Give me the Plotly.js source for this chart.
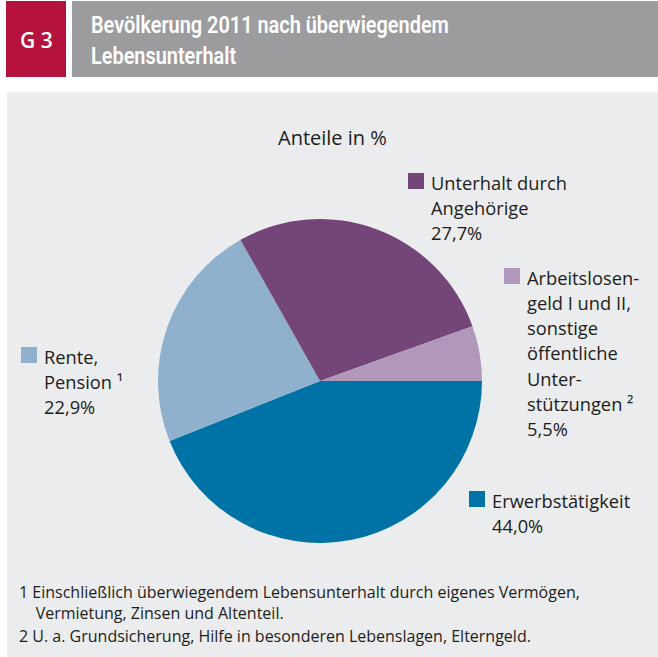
<!DOCTYPE html>
<html>
<head>
<meta charset="utf-8">
<script src="https://cdn.plot.ly/plotly-3.0.1.min.js"></script>
<style>html,body{margin:0;padding:0;background:#fff;}#chart{width:658px;height:657px;}</style>
</head>
<body>
<div id="chart"></div>
<script>
// Data
const categories = ["Erwerbstätigkeit", "Rente, Pension", "Unterhalt durch Angehörige", "Arbeitslosengeld I und II, sonstige öffentliche Unterstützungen"];
const labelLines = [
  ["Erwerbstätigkeit"],
  ["Rente,", "Pension ¹"],
  ["Unterhalt durch", "Angehörige"],
  ["Arbeitslosen-", "geld I und II,", "sonstige", "öffentliche", "Unter-", "stützungen ²"]
];
const values = [44.0, 22.9, 27.7, 5.5];
const colors = ["#0073a6", "#8fb1cd", "#744578", "#b197ba"];
const headerNumber = "G 3";
const headerTitle = "Bevölkerung 2011 nach überwiegendem<br>Lebensunterhalt";
const subTitle = "Anteile in %";
const footnotes = ["1 Einschließlich überwiegendem Lebensunterhalt durch eigenes Vermögen,", "   Vermietung, Zinsen und Altenteil.", "2 U. a. Grundsicherung, Hilfe in besonderen Lebenslagen, Elterngeld."];

const W = 658, H = 657;
const px = x => x / W;
const py = y => 1 - y / H;
const fmt = v => v.toFixed(1).replace(".", ",") + "%";
const FONT = "Open Sans, Noto Sans, sans-serif";
const TXT = "#1d1d1b";

// Label positions (square top-left in px)
const labelPos = [
  {x: 469, y: 491},
  {x: 21, y: 347},
  {x: 408, y: 173},
  {x: 504, y: 268}
];
const LINE = 25.3;

const shapes = [
  {type: "rect", xref: "paper", yref: "paper", x0: px(7), x1: px(658), y0: py(657), y1: py(92), fillcolor: "#ebeced", line: {width: 0}, layer: "below"},
  {type: "rect", xref: "paper", yref: "paper", x0: px(6), x1: px(66), y0: py(77), y1: py(1), fillcolor: "#b5133d", line: {width: 0}, layer: "below"},
  {type: "rect", xref: "paper", yref: "paper", x0: px(72), x1: px(658), y0: py(77), y1: py(1), fillcolor: "#9c9c9e", line: {width: 0}, layer: "below"}
];
const annotations = [
  {xref: "paper", yref: "paper", x: px(36), y: py(40), text: headerNumber, showarrow: false, xanchor: "center", yanchor: "middle", font: {family: FONT, size: 21, weight: 600, color: "#fff"}},
  {xref: "paper", yref: "paper", x: px(89), y: py(40), text: headerTitle, showarrow: false, xanchor: "left", yanchor: "middle", align: "left", font: {family: "Roboto, " + FONT, size: 23.5, weight: 600, color: "#fff"}},
  {xref: "paper", yref: "paper", x: px(333), y: py(137), text: subTitle, showarrow: false, xanchor: "center", yanchor: "middle", font: {family: FONT, size: 20, color: TXT}}
];
categories.forEach((c, i) => {
  const p = labelPos[i];
  shapes.push({type: "rect", xref: "paper", yref: "paper", x0: px(p.x), x1: px(p.x + 16), y0: py(p.y + 16), y1: py(p.y), fillcolor: colors[i], line: {width: 0}});
  const lines = labelLines[i].concat([fmt(values[i])]);
  lines.forEach((t, k) => {
    annotations.push({xref: "paper", yref: "paper", x: px(p.x + 21), y: py(p.y + 9 + k * LINE), text: t, showarrow: false, xanchor: "left", yanchor: "middle", align: "left", font: {family: FONT, size: 18.3, color: TXT}});
  });
});
footnotes.forEach((t, i) => {
  annotations.push({xref: "paper", yref: "paper", x: px(17), y: py([592, 613, 636][i]), text: t.replace(/^ +/, m => "\u00a0".repeat(m.length + 1)), showarrow: false, xanchor: "left", yanchor: "middle", align: "left", font: {family: FONT, size: 16, color: TXT}});
});

const cx = 320, cy = 381, r = 162;
const data = [{
  type: "pie",
  labels: categories,
  values: values,
  marker: {colors: colors, line: {width: 0}},
  sort: false,
  direction: "clockwise",
  rotation: 90,
  textinfo: "none",
  hoverinfo: "label+value",
  showlegend: false,
  domain: {x: [px(cx - r), px(cx + r)], y: [py(cy + r), py(cy - r)]}
}];
const layout = {
  width: W, height: H,
  margin: {l: 0, r: 0, t: 0, b: 0},
  paper_bgcolor: "#ffffff",
  showlegend: false,
  shapes: shapes,
  annotations: annotations
};
Plotly.newPlot("chart", data, layout, {displayModeBar: false, staticPlot: true}).then(gd => {
  // condense the header title horizontally (reference uses a condensed typeface)
  const t = gd.querySelector('.annotation[data-index="1"] text');
  if (t) {
    const bb = t.getBBox();
    const s = 358 / bb.width;
    const x0 = bb.x;
    t.setAttribute("transform", "translate(" + x0 + ",0) scale(" + s + ",1) translate(" + (-x0) + ",0)");
  }
});
</script>
</body>
</html>
